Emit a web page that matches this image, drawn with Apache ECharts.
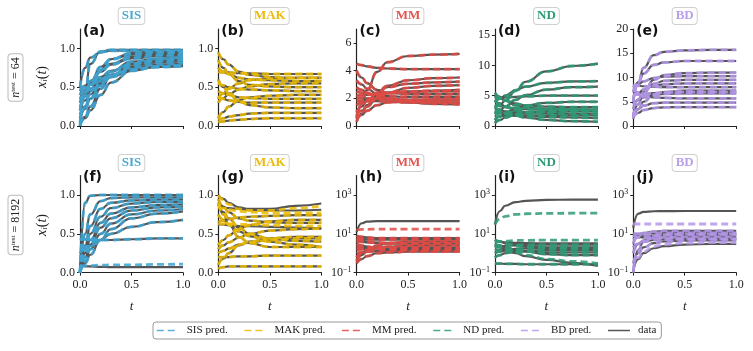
<!DOCTYPE html>
<html>
<head>
<meta charset="utf-8">
<script src="https://cdn.jsdelivr.net/npm/echarts@6.0.0/dist/echarts.min.js"></script>
<style>
  html, body { margin: 0; padding: 0; background: #fff; }
  #chart { width: 753px; height: 351px; }
</style>
</head>
<body>
<div id="chart"></div>
<script>
// time samples shared by every trajectory
var tPoints = [0, 0.05, 0.1, 0.2, 0.3, 0.5, 0.75, 1.0];

// ---- row 1 : n_test = 64 (prediction sits on the data) ----
var sis64 = [
  [0.0, 0.45, 0.8, 0.96, 0.98, 0.98, 0.98, 0.98],
  [0.5, 0.75, 0.88, 0.95, 0.97, 0.97, 0.97, 0.97],
  [0.05, 0.25, 0.45, 0.72, 0.86, 0.94, 0.96, 0.96],
  [0.2, 0.38, 0.55, 0.76, 0.86, 0.92, 0.94, 0.95],
  [0.3, 0.42, 0.53, 0.7, 0.8, 0.89, 0.92, 0.93],
  [0.45, 0.52, 0.58, 0.7, 0.79, 0.87, 0.9, 0.91],
  [0.1, 0.22, 0.35, 0.56, 0.7, 0.83, 0.87, 0.89],
  [0.0, 0.12, 0.25, 0.48, 0.64, 0.8, 0.86, 0.88],
  [0.4, 0.47, 0.53, 0.63, 0.71, 0.8, 0.84, 0.86],
  [0.15, 0.25, 0.35, 0.52, 0.64, 0.77, 0.82, 0.84],
  [0.35, 0.42, 0.48, 0.58, 0.66, 0.75, 0.79, 0.81],
  [0.02, 0.1, 0.2, 0.4, 0.56, 0.71, 0.77, 0.79],
  [0.25, 0.33, 0.41, 0.54, 0.63, 0.72, 0.76, 0.77],
  [0.48, 0.5, 0.53, 0.6, 0.66, 0.73, 0.76, 0.78]
];
var mak64 = [
  [0.95, 0.86, 0.79, 0.7, 0.66, 0.63, 0.62, 0.62],
  [0.75, 0.7, 0.67, 0.62, 0.6, 0.59, 0.58, 0.58],
  [0.7, 0.69, 0.69, 0.68, 0.68, 0.67, 0.67, 0.67],
  [0.55, 0.52, 0.5, 0.48, 0.47, 0.46, 0.45, 0.45],
  [0.3, 0.36, 0.41, 0.47, 0.51, 0.54, 0.55, 0.55],
  [0.38, 0.35, 0.33, 0.31, 0.3, 0.3, 0.3, 0.3],
  [0.45, 0.42, 0.4, 0.37, 0.36, 0.35, 0.35, 0.35],
  [0.1, 0.18, 0.25, 0.33, 0.37, 0.39, 0.4, 0.4],
  [0.05, 0.06, 0.07, 0.08, 0.09, 0.1, 0.1, 0.1],
  [0.08, 0.1, 0.12, 0.14, 0.16, 0.17, 0.17, 0.17],
  [0.6, 0.5, 0.42, 0.32, 0.27, 0.24, 0.23, 0.23],
  [0.85, 0.75, 0.67, 0.58, 0.53, 0.51, 0.5, 0.5],
  [0.35, 0.42, 0.48, 0.55, 0.59, 0.61, 0.62, 0.62]
];
var mm64 = [
  [0.6, 1.6, 2.6, 3.9, 4.6, 5.05, 5.15, 5.2],
  [4.5, 4.4, 4.3, 4.2, 4.15, 4.1, 4.1, 4.1],
  [4.0, 3.5, 3.1, 2.6, 2.4, 2.3, 2.3, 2.3],
  [0.3, 0.9, 1.5, 2.4, 2.9, 3.3, 3.45, 3.5],
  [1.0, 1.4, 1.8, 2.4, 2.8, 3.05, 3.15, 3.2],
  [0.8, 1.1, 1.4, 2.0, 2.4, 2.75, 2.9, 2.95],
  [2.2, 2.2, 2.25, 2.3, 2.4, 2.5, 2.55, 2.6],
  [2.5, 2.4, 2.3, 2.2, 2.15, 2.1, 2.1, 2.1],
  [2.0, 2.0, 2.0, 1.95, 1.95, 1.9, 1.9, 1.9],
  [1.8, 1.8, 1.8, 1.8, 1.75, 1.7, 1.7, 1.7],
  [3.3, 3.0, 2.7, 2.3, 2.0, 1.8, 1.7, 1.65],
  [2.8, 2.6, 2.4, 2.1, 1.9, 1.7, 1.6, 1.55],
  [0.5, 0.8, 1.1, 1.5, 1.7, 1.85, 1.9, 1.9],
  [1.5, 1.7, 1.9, 2.2, 2.35, 2.45, 2.5, 2.5]
];
var nd64 = [
  [3.0, 3.5, 4.2, 5.8, 7.3, 9.0, 9.9, 10.3],
  [4.0, 4.5, 5.0, 5.9, 6.5, 7.1, 7.35, 7.4],
  [2.0, 2.6, 3.2, 4.3, 5.1, 6.0, 6.4, 6.5],
  [4.5, 4.6, 4.7, 4.8, 4.9, 5.0, 5.0, 5.0],
  [1.0, 1.6, 2.1, 2.9, 3.4, 3.8, 4.0, 4.0],
  [5.0, 4.6, 4.2, 3.7, 3.4, 3.2, 3.1, 3.1],
  [3.5, 3.3, 3.1, 2.9, 2.8, 2.7, 2.7, 2.7],
  [2.0, 2.1, 2.2, 2.3, 2.3, 2.35, 2.4, 2.4],
  [4.2, 3.7, 3.2, 2.6, 2.3, 2.1, 2.0, 2.0],
  [1.5, 1.6, 1.7, 1.7, 1.75, 1.75, 1.75, 1.75],
  [3.0, 2.7, 2.4, 2.0, 1.7, 1.5, 1.4, 1.3],
  [2.5, 2.3, 2.1, 1.7, 1.4, 1.0, 0.8, 0.7],
  [0.5, 1.0, 1.4, 1.9, 2.2, 2.4, 2.5, 2.5],
  [5.5, 4.8, 4.2, 3.4, 3.0, 2.8, 2.7, 2.6]
];
var bd64 = [
  [5.0, 9.0, 12.0, 14.6, 15.3, 15.6, 15.7, 15.7],
  [7.0, 9.0, 10.8, 12.6, 13.1, 13.4, 13.4, 13.4],
  [2.0, 4.5, 6.8, 9.5, 10.5, 10.9, 11.0, 11.0],
  [8.0, 8.6, 9.2, 9.9, 10.2, 10.3, 10.3, 10.3],
  [3.5, 5.5, 7.0, 8.7, 9.3, 9.5, 9.5, 9.5],
  [6.0, 6.8, 7.5, 8.3, 8.6, 8.8, 8.8, 8.8],
  [8.5, 8.3, 8.2, 8.1, 8.0, 8.0, 8.0, 8.0],
  [1.5, 3.5, 5.0, 6.5, 7.0, 7.3, 7.3, 7.3],
  [4.5, 5.3, 5.9, 6.4, 6.6, 6.7, 6.7, 6.7],
  [7.5, 6.9, 6.4, 5.9, 5.8, 5.7, 5.7, 5.7],
  [2.5, 3.5, 4.2, 4.7, 4.8, 4.8, 4.8, 4.8],
  [1.8, 2.7, 3.3, 3.7, 3.85, 3.9, 3.9, 3.9],
  [6.5, 6.5, 6.6, 6.8, 6.9, 7.0, 7.0, 7.0]
];

// ---- row 2 : n_test = 8192 (a few predictions drift away) ----
var sis8192 = [
  [0.0, 0.9, 0.99, 1.0, 1.0, 1.0, 1.0, 1.0],
  [0.0, 0.5, 0.75, 0.92, 0.96, 0.97, 0.97, 0.97],
  [0.0, 0.35, 0.6, 0.82, 0.9, 0.93, 0.94, 0.94],
  [0.0, 0.3, 0.5, 0.72, 0.83, 0.89, 0.91, 0.91],
  [0.0, 0.25, 0.42, 0.64, 0.76, 0.84, 0.87, 0.88],
  [0.0, 0.2, 0.36, 0.58, 0.7, 0.8, 0.84, 0.85],
  [0.0, 0.15, 0.3, 0.5, 0.63, 0.75, 0.8, 0.82],
  [0.0, 0.12, 0.23, 0.42, 0.56, 0.7, 0.76, 0.79],
  [0.25, 0.3, 0.34, 0.42, 0.5, 0.59, 0.65, 0.68],
  [0.42, 0.43, 0.42, 0.42, 0.42, 0.43, 0.44, 0.44],
  [0.09, 0.08, 0.08, 0.075, 0.07, 0.07, 0.07, 0.07]
];
var sis8192Pred = { 10: [0.09, 0.09, 0.09, 0.095, 0.1, 0.1, 0.105, 0.11] };

var mak8192 = [
  [1.0, 0.95, 0.9, 0.84, 0.82, 0.82, 0.86, 0.89],
  [0.95, 0.85, 0.78, 0.7, 0.67, 0.65, 0.64, 0.64],
  [0.88, 0.78, 0.7, 0.58, 0.5, 0.44, 0.41, 0.4],
  [0.85, 0.84, 0.83, 0.82, 0.81, 0.8, 0.8, 0.81],
  [0.75, 0.68, 0.62, 0.53, 0.47, 0.4, 0.36, 0.33],
  [0.65, 0.67, 0.69, 0.71, 0.72, 0.73, 0.74, 0.74],
  [0.62, 0.62, 0.61, 0.6, 0.6, 0.59, 0.58, 0.57],
  [0.35, 0.42, 0.48, 0.56, 0.61, 0.66, 0.68, 0.68],
  [0.3, 0.35, 0.39, 0.45, 0.5, 0.54, 0.56, 0.57],
  [0.25, 0.28, 0.31, 0.36, 0.39, 0.42, 0.44, 0.44],
  [0.2, 0.2, 0.2, 0.21, 0.21, 0.22, 0.22, 0.22],
  [0.1, 0.18, 0.25, 0.35, 0.4, 0.44, 0.46, 0.46],
  [0.05, 0.07, 0.08, 0.08, 0.08, 0.08, 0.08, 0.08],
  [0.9, 0.75, 0.62, 0.46, 0.38, 0.33, 0.33, 0.33]
];
var mak8192Pred = {
  0: [1.0, 0.94, 0.88, 0.82, 0.8, 0.8, 0.83, 0.86],
  3: [0.85, 0.83, 0.81, 0.79, 0.78, 0.77, 0.77, 0.77],
  6: [0.62, 0.63, 0.63, 0.62, 0.62, 0.61, 0.6, 0.6]
};

var mm8192 = [
  [12, 35, 42, 45, 45, 45, 45, 45],
  [8, 7, 6.5, 6, 6, 6, 6, 6],
  [0.4, 0.8, 1.2, 1.8, 2.2, 2.5, 2.6, 2.6],
  [0.6, 1.0, 1.5, 2.5, 3.2, 3.8, 4.0, 4.0],
  [5, 4.5, 4.0, 3.5, 3.2, 3.0, 3.0, 3.0],
  [2, 2, 2, 2, 2, 2, 2, 2],
  [3, 2.5, 2.2, 1.8, 1.6, 1.5, 1.5, 1.5],
  [1, 1.1, 1.2, 1.3, 1.35, 1.4, 1.4, 1.4],
  [6, 5.5, 5.2, 5, 5, 5, 5, 5],
  [0.3, 0.5, 0.7, 1.0, 1.1, 1.2, 1.2, 1.2],
  [4, 3.8, 3.6, 3.4, 3.4, 3.4, 3.4, 3.4],
  [1.5, 1.6, 1.7, 1.8, 1.8, 1.8, 1.8, 1.8]
];
var mm8192Pred = { 0: [16, 17, 17, 17.5, 17.5, 17.5, 17.5, 17.5] };

var nd8192 = [
  [30, 150, 280, 430, 500, 560, 580, 580],
  [4, 3.8, 3.6, 3.4, 3.3, 3.2, 3.2, 3.2],
  [2, 2.2, 2.4, 2.6, 2.7, 2.8, 2.8, 2.8],
  [5, 4, 3.2, 2.5, 2.2, 2.0, 2.0, 2.0],
  [1, 1.2, 1.4, 1.7, 1.8, 1.9, 1.9, 1.9],
  [0.6, 0.8, 1.0, 1.2, 1.35, 1.45, 1.5, 1.5],
  [3, 2.5, 2.0, 1.5, 1.3, 1.1, 1.1, 1.1],
  [2.5, 2.0, 1.6, 1.0, 0.7, 0.45, 0.32, 0.22],
  [0.3, 0.29, 0.28, 0.28, 0.27, 0.27, 0.27, 0.27],
  [1.5, 1.5, 1.4, 1.3, 1.2, 0.9, 0.8, 0.8]
];
var nd8192Pred = {
  0: [30, 60, 80, 100, 108, 112, 115, 115],
  1: [4, 4, 4.2, 4.5, 4.6, 4.7, 4.7, 4.7],
  7: [2.5, 2.1, 1.7, 1.1, 0.8, 0.5, 0.38, 0.3]
};

var bd8192 = [
  [20, 110, 135, 145, 148, 150, 150, 150],
  [3, 8, 11, 13, 14, 14, 14, 14],
  [0.1, 1.5, 4, 7.5, 9, 10, 10, 10],
  [5, 6.5, 7.5, 8.2, 8.5, 8.5, 8.5, 8.5],
  [1, 3, 4.5, 6, 6.5, 7, 7, 7],
  [8, 7, 6.5, 6, 5.8, 5.7, 5.7, 5.7],
  [0.3, 1, 2, 3.3, 4, 4.5, 4.6, 4.6],
  [0.12, 0.5, 1, 1.8, 2.3, 2.8, 3, 3],
  [2, 3, 3.8, 4.8, 5.2, 5.3, 5.3, 5.3],
  [10, 10, 10.5, 11, 11, 11, 11, 11]
];
var bd8192Pred = {
  0: [32, 32, 32, 32, 32, 32, 32, 32],
  7: [0.15, 0.6, 1.2, 2.2, 2.8, 3.3, 3.5, 3.5]
};

// tick labels
var xTicks = [0, 0.5, 1.0];
var unitTicks = [0, 0.5, 1.0];
var mmTicks = [0, 2, 4, 6];
var ndTicks = [0, 5, 10, 15];
var bdTicks = [0, 5, 10, 15, 20];
var logTicks = [0.1, 10, 1000];

var models = ['SIS', 'MAK', 'MM', 'ND', 'BD'];
var colors = { SIS: '#3fa3d1', MAK: '#ecbb00', MM: '#e24b45', ND: '#2f9a77', BD: '#b497ea' };
var titleColors = { SIS: '#4aa8d2', MAK: '#ebbb0a', MM: '#e5554f', ND: '#2f9a78', BD: '#b9a0ea' };

var panels = [
  { tag: '(a)', model: 'SIS', data: sis64, pred: {}, max: 1.25, ticks: unitTicks },
  { tag: '(b)', model: 'MAK', data: mak64, pred: {}, max: 1.25, ticks: unitTicks },
  { tag: '(c)', model: 'MM', data: mm64, pred: {}, max: 7, ticks: mmTicks },
  { tag: '(d)', model: 'ND', data: nd64, pred: {}, max: 16, ticks: ndTicks },
  { tag: '(e)', model: 'BD', data: bd64, pred: {}, max: 20, ticks: bdTicks },
  { tag: '(f)', model: 'SIS', data: sis8192, pred: sis8192Pred, max: 1.25, ticks: unitTicks },
  { tag: '(g)', model: 'MAK', data: mak8192, pred: mak8192Pred, max: 1.25, ticks: unitTicks },
  { tag: '(h)', model: 'MM', data: mm8192, pred: mm8192Pred, log: true },
  { tag: '(i)', model: 'ND', data: nd8192, pred: nd8192Pred, log: true },
  { tag: '(j)', model: 'BD', data: bd8192, pred: bd8192Pred, log: true }
];

var serif = 'Liberation Serif';
var lefts = [80, 218.3, 356.6, 494.9, 633.2];
var tops = [29, 175.6];
var pw = 103, ph = 97;

var grid = [], xAxis = [], yAxis = [], series = [], graphic = [];

panels.forEach(function (p, k) {
  var r = Math.floor(k / 5), c = k % 5;
  grid.push({ left: lefts[c], top: tops[r], width: pw, height: ph, containLabel: false, outerBoundsMode: 'none' });

  xAxis.push({
    gridIndex: k, type: 'value', min: 0, max: 1, interval: 0.5,
    axisLine: { show: true, onZero: false, lineStyle: { color: '#222', width: 1.2 } },
    axisTick: { show: true, length: 3, lineStyle: { color: '#222' } },
    axisLabel: { show: r === 1, fontFamily: serif, fontSize: 12, color: '#222', margin: 6,
      customValues: xTicks, formatter: function (v) { return v.toFixed(1); } },
    splitLine: { show: false },
    name: r === 1 ? 't' : '', nameLocation: 'middle', nameGap: 27,
    nameTextStyle: { fontFamily: serif, fontStyle: 'italic', fontSize: 13, color: '#222' }
  });

  var ya = {
    gridIndex: k,
    axisLine: { show: true, onZero: false, lineStyle: { color: '#222', width: 1.2 } },
    splitLine: { show: false },
    axisLabel: { fontFamily: serif, fontSize: 12, color: '#222', margin: 5 }
  };
  if (p.log) {
    ya.type = 'log'; ya.logBase = 10; ya.min = 0.1; ya.max = 10000;
    ya.axisTick = { show: true, length: 3, lineStyle: { color: '#222' }, customValues: logTicks };
    ya.axisLabel.customValues = logTicks;
    ya.axisLabel.formatter = function (v) {
      var e = Math.round(Math.log(v) / Math.LN10);
      return '{b|10}{s|' + (e < 0 ? '\u2212' + (-e) : e) + '}';
    };
    ya.axisLabel.rich = {
      b: { fontFamily: serif, fontSize: 12, color: '#222' },
      s: { fontFamily: serif, fontSize: 8, color: '#222', verticalAlign: 'top', padding: [0, 0, 6, 0] }
    };
  } else {
    ya.type = 'value'; ya.min = 0; ya.max = p.max;
    ya.axisTick = { show: true, length: 3, lineStyle: { color: '#222' }, customValues: p.ticks };
    ya.axisLabel.customValues = p.ticks;
    var dec = p.max < 2;
    ya.axisLabel.formatter = function (v) { return dec ? v.toFixed(1) : String(v); };
  }
  yAxis.push(ya);

  // data (solid grey) goes under the dashed prediction
  p.data.forEach(function (vals, j) {
    series.push({
      type: 'line', name: 'data', xAxisIndex: k, yAxisIndex: k,
      data: tPoints.map(function (t, i) { return [t, vals[i]]; }),
      symbol: 'none', smooth: 0.5, smoothMonotone: 'x', silent: true, z: 2,
      lineStyle: { color: '#555', width: 2.2 }, itemStyle: { color: '#555' }
    });
  });
  p.data.forEach(function (vals, j) {
    var pv = p.pred[j] || vals;
    series.push({
      type: 'line', name: p.model + ' pred.', xAxisIndex: k, yAxisIndex: k,
      data: tPoints.map(function (t, i) { return [t, pv[i]]; }),
      symbol: 'none', smooth: 0.5, smoothMonotone: 'x', silent: true, z: 3,
      lineStyle: { color: colors[p.model], width: 2.8, type: [7, 4], opacity: 0.85 },
      itemStyle: { color: colors[p.model] }
    });
  });

  // panel tag
  graphic.push({ type: 'text', x: lefts[c] + 3, y: tops[r] - 5, silent: true,
    style: { text: p.tag, font: 'bold 14px "DejaVu Sans"', fill: '#111', align: 'left', verticalAlign: 'top' } });
  // model title box
  graphic.push({ type: 'text', x: lefts[c] + pw / 2, y: r === 0 ? 16 : 163, silent: true,
    style: { text: p.model, font: 'bold 13px "Liberation Serif"', fill: titleColors[p.model],
      align: 'center', verticalAlign: 'middle', backgroundColor: '#fff',
      borderColor: '#d0d0d0', borderWidth: 1, borderRadius: 3, padding: [2, 3, 1, 3] } });
});

// row labels and y-axis labels
[['64', 77.5, 77], ['8192', 225, 225]].forEach(function (row) {
  graphic.push({ type: 'text', x: 15.5, y: row[1], rotation: Math.PI / 2, silent: true,
    style: { text: '{i|n}{s|test}{n| = ' + row[0] + '}', align: 'center', verticalAlign: 'middle',
      backgroundColor: '#fff', borderColor: '#bbb', borderWidth: 1, borderRadius: 3, padding: [1, 3, 1, 3],
      rich: {
        i: { fontFamily: serif, fontStyle: 'italic', fontSize: 12, fill: '#222' },
        s: { fontFamily: serif, fontSize: 7, fill: '#222', verticalAlign: 'top' },
        n: { fontFamily: serif, fontSize: 12, fill: '#222' }
      } } });
  graphic.push({ type: 'text', x: 42, y: row[2], rotation: Math.PI / 2, silent: true,
    style: { text: '{i|x}{s|i}{n|(}{i|t}{n|)}', align: 'center', verticalAlign: 'middle',
      rich: {
        i: { fontFamily: serif, fontStyle: 'italic', fontSize: 14, fill: '#222' },
        s: { fontFamily: serif, fontStyle: 'italic', fontSize: 9, fill: '#222', verticalAlign: 'bottom' },
        n: { fontFamily: serif, fontSize: 14, fill: '#222' }
      } } });
});

var chart = echarts.init(document.getElementById('chart'), null, { renderer: 'canvas' });
chart.setOption({
  animation: false,
  backgroundColor: '#fff',
  grid: grid,
  xAxis: xAxis,
  yAxis: yAxis,
  series: series,
  graphic: graphic,
  legend: {
    left: 153, top: 322, orient: 'horizontal', selectedMode: false,
    data: models.map(function (m) { return m + ' pred.'; }).concat(['data']),
    itemWidth: 22, itemHeight: 10, itemGap: 16,
    itemStyle: { opacity: 0 },
    lineStyle: { width: 1.5 },
    textStyle: { fontFamily: serif, fontSize: 11, color: '#222', padding: [0, 0, 0, 3] },
    borderColor: '#999', borderWidth: 1, borderRadius: 3, padding: [3, 5, 3, 3]
  }
});
</script>
</body>
</html>
